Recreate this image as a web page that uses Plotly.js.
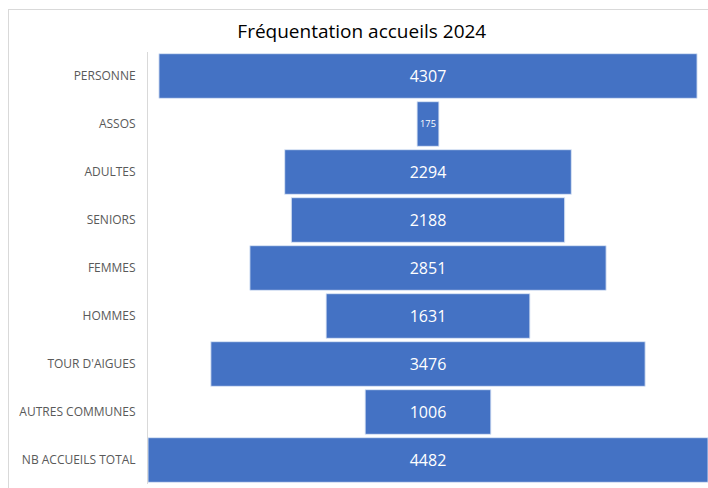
<!DOCTYPE html>
<html><head><meta charset="utf-8">
<script src="https://cdn.plot.ly/plotly-3.0.1.min.js"></script>
<style>body{margin:0;background:#fff}#frame{position:absolute;left:8px;top:9px;width:720px;height:500px;border:1px solid #d9d9d9;pointer-events:none}#chart{position:absolute;left:0;top:0;width:708px;height:488px}</style>
</head><body>
<div id="chart"></div><div id="frame"></div>
<script>
const categories = ["PERSONNE","ASSOS","ADULTES","SENIORS","FEMMES","HOMMES","TOUR D'AIGUES","AUTRES COMMUNES","NB ACCUEILS TOTAL"];
const values = [4307,175,2294,2188,2851,1631,3476,1006,4482];
const chartTitle = "Fréquentation accueils 2024";

Plotly.newPlot('chart', [{
  type: 'funnel',
  y: categories,
  x: values,
  textinfo: 'value',
  textposition: 'inside',
  insidetextfont: {family: 'Open Sans, sans-serif', size: 16, color: '#ffffff'},
  marker: {color: '#4472C4', line: {color: 'rgba(220,230,245,0.9)', width: 1}},
  connector: {visible: false},
  hoverinfo: 'none'
}], {
  width: 708, height: 488,
  margin: {l: 148, r: 0, t: 52, b: 4},
  paper_bgcolor: '#ffffff', plot_bgcolor: '#ffffff',
  title: {text: chartTitle, x: 0.511, xref: 'container', y: 0.935, yref: 'container', yanchor: 'middle',
          font: {family: 'Open Sans, sans-serif', size: 19, color: '#000000'}},
  funnelgap: 0.07,
  showlegend: false,
  xaxis: {visible: false, range: [-4482/2, 4482/2]},
  yaxis: {showline: true, linecolor: '#d9d9d9', linewidth: 1, ticks: '', ticklabelstandoff: 9,
          tickfont: {family: 'Open Sans, sans-serif', size: 12, color: '#595959'}}
}, {displayModeBar: false, staticPlot: true});
</script>
</body></html>
